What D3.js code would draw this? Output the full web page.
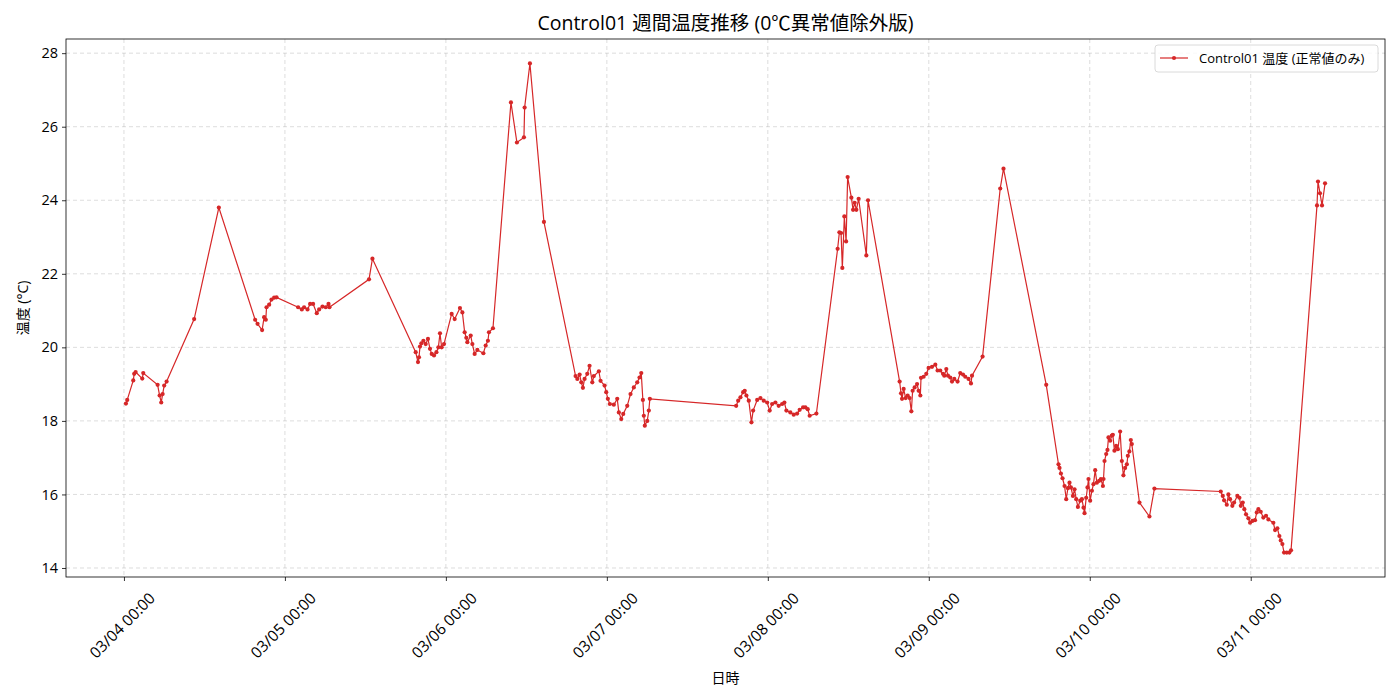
<!DOCTYPE html>
<html>
<head>
<meta charset="utf-8">
<script src="https://cdn.jsdelivr.net/npm/d3@7"></script>
<style>
  html, body { margin: 0; padding: 0; background: #fff; }
  svg text { font-family: "Open Sans", "Noto Sans CJK JP", sans-serif; fill: #000; }
</style>
</head>
<body>
<svg id="chart" width="1400" height="700"></svg>
<script>
// ---- data ----
const startTime = "2025-03-04T00:00:00";
const hoursFromStart = [
  0.30,0.49,1.39,1.53,1.74,2.73,2.88,5.02,5.32,5.56,5.77,6.00,6.36,10.47,14.15,
  19.56,19.92,20.60,20.90,21.15,21.26,21.65,22.00,22.39,22.75,
  25.97,26.52,26.86,27.37,27.76,28.20,28.75,29.10,29.60,30.09,30.50,30.64,36.54,37.05,
  43.50,43.84,43.99,44.14,44.35,44.65,44.99,45.33,45.63,45.89,46.23,46.59,46.88,47.12,47.37,47.72,
  48.86,49.31,50.10,50.46,50.80,51.05,51.20,51.70,51.95,52.29,52.69,53.59,53.93,54.27,54.42,55.02,
  57.70,58.59,59.64,59.74,60.53,62.62,
  67.34,67.60,67.94,68.19,68.43,68.68,69.08,69.42,69.83,70.06,70.81,71.06,71.66,71.91,72.15,72.45,
  73.04,73.55,73.79,74.15,74.44,75.04,75.53,76.02,76.53,76.87,77.13,77.37,77.51,77.66,78.02,78.26,78.41,
  91.28,91.58,91.92,92.32,92.56,92.81,93.16,93.56,93.81,94.41,94.90,95.39,95.90,96.28,96.64,97.13,
  97.62,98.13,98.47,98.77,99.36,99.86,100.37,100.75,101.26,101.60,101.95,102.24,103.24,
  106.41,106.67,106.92,107.11,107.41,107.67,107.90,108.46,108.71,108.95,109.20,109.54,110.69,110.94,
  115.65,115.86,116.01,116.25,116.55,116.85,117.14,117.40,117.59,117.89,118.25,118.49,118.74,118.84,
  119.23,119.63,119.97,120.48,120.97,121.31,121.71,122.12,122.31,122.61,122.86,123.20,123.46,123.80,
  124.29,124.69,125.10,125.44,125.93,126.29,126.44,128.02,130.65,131.14,137.51,
  139.34,139.49,139.70,139.94,140.24,140.49,140.74,140.98,141.19,141.49,141.73,141.98,142.23,142.58,
  142.83,143.07,143.22,143.47,143.66,143.81,144.06,144.32,144.55,144.81,145.06,145.40,145.66,145.96,
  146.05,146.20,146.45,146.64,146.79,147.04,147.29,147.44,147.68,147.93,148.19,148.53,148.78,149.02,
  149.27,149.53,149.68,149.91,150.12,150.27,151.41,152.90,153.64,
  163.53,163.83,164.03,164.43,164.67,164.92,165.26,165.52,166.01,166.31,166.52,166.81,167.05,167.30,
  167.65,167.90,168.24,168.64,168.90,169.14,169.49,169.88,170.28,170.63,171.37,171.63,171.97,172.27,
  172.48,172.72,172.97,173.37,173.76,174.01,
  177.88,178.03,178.33,178.63,179.08
];
const temperatures = [
  18.47,18.57,19.10,19.28,19.33,19.15,19.30,18.98,18.69,18.50,18.73,18.96,19.07,20.77,23.80,
  20.75,20.64,20.47,20.82,20.75,21.09,21.16,21.30,21.35,21.36,
  21.09,21.03,21.09,21.03,21.18,21.18,20.93,21.03,21.11,21.09,21.18,21.09,21.85,22.41,
  19.87,19.60,19.73,20.02,20.11,20.18,20.09,20.23,19.96,19.82,19.78,19.87,20.00,20.38,20.00,20.09,
  20.91,20.77,21.07,20.95,20.41,20.26,20.14,20.32,20.09,19.82,19.93,19.84,20.05,20.18,20.41,20.52,
  26.66,25.57,25.71,26.52,27.72,23.41,
  19.22,19.14,19.26,19.05,18.90,19.14,19.28,19.50,19.05,19.22,19.35,19.09,18.96,18.78,18.60,18.46,
  18.44,18.60,18.23,18.05,18.19,18.41,18.73,18.91,19.05,19.18,19.30,18.57,18.14,17.87,18.00,18.28,18.60,
  18.41,18.55,18.64,18.78,18.82,18.69,18.55,17.96,18.28,18.57,18.62,18.55,18.50,18.28,18.46,18.50,
  18.41,18.46,18.50,18.28,18.23,18.17,18.20,18.30,18.37,18.37,18.32,18.14,18.20,
  22.68,23.13,23.11,22.16,23.56,22.88,24.63,24.07,23.74,23.93,23.74,24.04,22.50,24.00,
  19.07,18.75,18.60,18.87,18.62,18.69,18.62,18.26,18.82,18.91,19.00,18.82,18.69,19.17,
  19.20,19.28,19.44,19.47,19.53,19.37,19.37,19.28,19.23,19.41,19.23,19.18,19.07,19.14,
  19.07,19.30,19.26,19.20,19.14,19.02,19.23,19.75,24.32,24.86,18.98,
  16.82,16.72,16.57,16.44,16.23,15.87,16.17,16.32,16.19,15.96,16.14,15.87,15.66,15.83,
  15.87,15.64,15.49,15.91,16.19,16.42,15.83,16.10,16.28,16.66,16.32,16.37,16.42,16.23,
  16.42,16.91,17.10,17.21,17.55,17.46,17.60,17.62,17.19,17.32,17.23,17.71,16.91,16.52,
  16.72,16.82,17.05,17.17,17.48,17.37,15.78,15.40,16.16,
  16.08,15.96,15.84,15.72,16.00,15.87,15.69,15.78,15.96,15.91,15.69,15.78,15.60,15.46,
  15.35,15.23,15.28,15.30,15.51,15.60,15.53,15.37,15.42,15.32,15.23,15.03,15.08,14.87,
  14.75,14.65,14.42,14.42,14.42,14.48,
  23.86,24.51,24.19,23.86,24.46
];
const yTicks = [14, 16, 18, 20, 22, 24, 26, 28];
const xTickDays = ["2025-03-04","2025-03-05","2025-03-06","2025-03-07","2025-03-08","2025-03-09","2025-03-10","2025-03-11"];
const titleText = "Control01 週間温度推移 (0℃異常値除外版)";
const xLabel = "日時";
const yLabel = "温度 (°C)";
const seriesName = "Control01 温度 (正常値のみ)";
const lineColor = "#d62728";

// ---- build ----
const t0 = new Date(startTime);
const data = hoursFromStart.map((h, i) => ({ t: new Date(t0.getTime() + h * 3600000), v: temperatures[i] }));

const svg = d3.select("#chart");
const mLeft = 66, mRight = 1385, mTop = 39, mBottom = 577;

const tExt = d3.extent(data, d => d.t);
const tPad = (tExt[1] - tExt[0]) * 0.05;
const x = d3.scaleTime()
  .domain([new Date(tExt[0].getTime() - tPad), new Date(tExt[1].getTime() + tPad)])
  .range([mLeft, mRight]);
const vExt = d3.extent(data, d => d.v);
const vPad = (vExt[1] - vExt[0]) * 0.05;
const y = d3.scaleLinear().domain([vExt[0] - vPad, vExt[1] + vPad]).range([mBottom, mTop]);

const xTicks = xTickDays.map(s => new Date(s + "T00:00:00"));
const fmt = d3.timeFormat("%m/%d %H:%M");

// grid
const grid = svg.append("g");
grid.selectAll(".gx").data(xTicks).join("line")
  .attr("x1", d => x(d)).attr("x2", d => x(d)).attr("y1", mTop).attr("y2", mBottom)
  .attr("stroke", "#b0b0b0").attr("stroke-opacity", 0.55).attr("stroke-width", 0.8)
  .attr("stroke-dasharray", "4,3");
grid.selectAll(".gy").data(yTicks).join("line")
  .attr("x1", mLeft).attr("x2", mRight).attr("y1", d => y(d)).attr("y2", d => y(d))
  .attr("stroke", "#b0b0b0").attr("stroke-opacity", 0.55).attr("stroke-width", 0.8)
  .attr("stroke-dasharray", "4,3");

// line + markers
const line = d3.line().x(d => x(d.t)).y(d => y(d.v));
svg.append("path").datum(data).attr("d", line)
  .attr("fill", "none").attr("stroke", lineColor).attr("stroke-width", 1.2);
svg.append("g").selectAll("circle").data(data).join("circle")
  .attr("cx", d => x(d.t)).attr("cy", d => y(d.v)).attr("r", 2.1)
  .attr("fill", lineColor);

// axes
const xAxis = svg.append("g").attr("transform", `translate(0,${mBottom})`)
  .call(d3.axisBottom(x).tickValues(xTicks).tickFormat(fmt).tickSizeOuter(0).tickSize(4).tickPadding(3));
xAxis.select(".domain").remove();
xAxis.selectAll("text").remove();
xAxis.selectAll(".tick line").attr("stroke", "#000").attr("stroke-width", 0.8);
svg.append("g").selectAll("text").data(xTicks).join("text")
  .attr("transform", d => `translate(${x(d) - 2},${625}) rotate(-45)`)
  .attr("text-anchor", "middle").attr("dominant-baseline", "central")
  .attr("font-size", 15.5).text(d => fmt(d));

const yAxis = svg.append("g").attr("transform", `translate(${mLeft},0)`)
  .call(d3.axisLeft(y).tickValues(yTicks).tickFormat(d3.format("d")).tickSizeOuter(0).tickSize(4).tickPadding(4));
yAxis.select(".domain").remove();
yAxis.selectAll(".tick line").attr("stroke", "#000").attr("stroke-width", 0.8);
yAxis.selectAll("text").attr("font-size", 14.5).attr("font-family", '"Open Sans", "Noto Sans CJK JP", sans-serif').attr("fill", "#000");

// frame
svg.append("rect").attr("x", mLeft).attr("y", mTop).attr("width", mRight - mLeft).attr("height", mBottom - mTop)
  .attr("fill", "none").attr("stroke", "#000").attr("stroke-width", 0.8);

// labels
svg.append("text").attr("x", (mLeft + mRight) / 2).attr("y", 22).attr("text-anchor", "middle")
  .attr("dominant-baseline", "central").attr("font-size", 19.5).text(titleText);
svg.append("text").attr("x", (mLeft + mRight) / 2).attr("y", 677).attr("text-anchor", "middle")
  .attr("dominant-baseline", "central").attr("font-size", 14).text(xLabel);
svg.append("text").attr("transform", `translate(22,${(mTop + mBottom) / 2}) rotate(-90)`)
  .attr("text-anchor", "middle").attr("dominant-baseline", "central").attr("font-size", 14).text(yLabel);

// legend
const lg = svg.append("g");
lg.append("rect").attr("x", 1155).attr("y", 45).attr("width", 223).attr("height", 27).attr("rx", 3)
  .attr("fill", "#fff").attr("fill-opacity", 0.8).attr("stroke", "#d0d0d0").attr("stroke-width", 0.8);
lg.append("line").attr("x1", 1160).attr("x2", 1188).attr("y1", 58).attr("y2", 58)
  .attr("stroke", lineColor).attr("stroke-width", 1.2);
lg.append("circle").attr("cx", 1174).attr("cy", 58).attr("r", 2.1).attr("fill", lineColor);
lg.append("text").attr("x", 1199).attr("y", 58).attr("dominant-baseline", "central")
  .attr("font-size", 13).text(seriesName);
</script>
</body>
</html>
